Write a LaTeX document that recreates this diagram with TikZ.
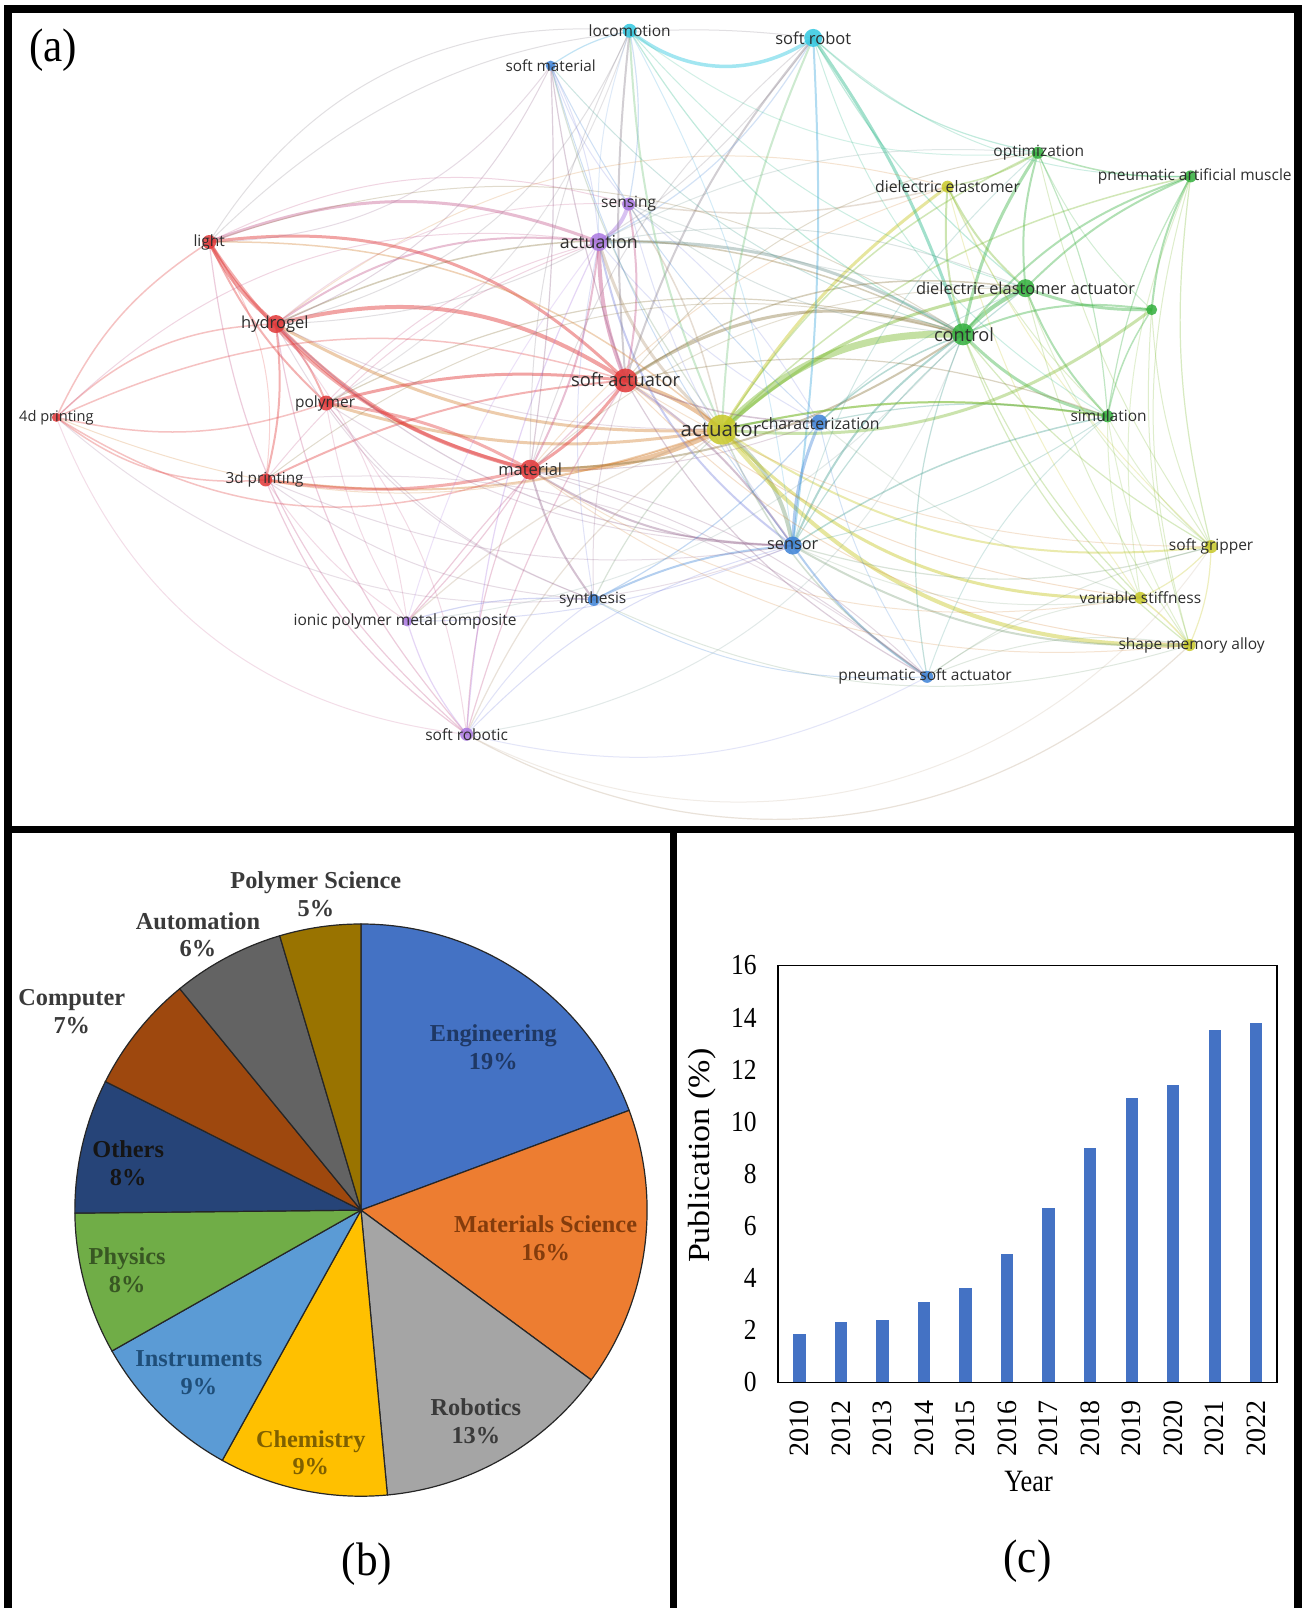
\documentclass[tikz,border=0pt]{standalone}
\usepackage{fontspec}
\setmainfont{Liberation Serif}
\newfontfamily\vosfont{Open Sans}
\usetikzlibrary{backgrounds}
\definecolor{vred}{RGB}{225,55,55}
\definecolor{vgreen}{RGB}{50,175,60}
\definecolor{vblue}{RGB}{60,130,215}
\definecolor{vyel}{RGB}{200,200,40}
\definecolor{vpur}{RGB}{170,120,225}
\definecolor{vcyan}{RGB}{50,200,225}
\definecolor{cEng}{HTML}{4472C4}
\definecolor{cMat}{HTML}{ED7D31}
\definecolor{cRob}{HTML}{A5A5A5}
\definecolor{cChe}{HTML}{FFC000}
\definecolor{cIns}{HTML}{5B9BD5}
\definecolor{cPhy}{HTML}{70AD47}
\definecolor{cOth}{HTML}{264478}
\definecolor{cCom}{HTML}{9E480E}
\definecolor{cAut}{HTML}{636363}
\definecolor{cPol}{HTML}{997300}
\definecolor{tEng}{HTML}{1F3864}
\definecolor{tMat}{HTML}{843C0C}
\definecolor{tRob}{HTML}{3A3A3A}
\definecolor{tChe}{HTML}{7F6000}
\definecolor{tIns}{HTML}{1F4E79}
\definecolor{tPhy}{HTML}{385723}
\definecolor{tOth}{HTML}{151515}
\definecolor{tOut}{HTML}{3A3A3A}
\definecolor{barblue}{HTML}{4472C4}
\tikzset{
  dot/.style={circle, inner sep=0pt, draw=none, fill opacity=0.85},
  vlab/.style={inner sep=0pt, text=black!82},
  pielab/.style={align=center, inner sep=0pt, font=\bfseries\fontsize{24.3}{27.7}\selectfont},
  paneltag/.style={inner sep=0pt, xscale=0.92, font=\fontsize{47}{47}\selectfont},
  ticklab/.style={inner sep=0pt, font=\fontsize{29}{29}\selectfont},
  slice/.style={draw=black!85, line width=1.2pt},
  framestyle/.style={line width=7.5pt, line cap=rect, line join=miter}
}
\newcommand\vnode[5]{%
  \node[dot, fill=#4, minimum size=#5*2pt] (#1) at (#2,#3) {};
  \expandafter\xdef\csname nc@#1\endcsname{#4}}
\newcommand\vlabel[5]{%
  \node[vlab, font=\vosfont\fontsize{#4}{#4}\selectfont] (t#1) at (#2,#3) {#5};}
\newcommand\vedge[5][0.38]{%
  \edef\vca{\csname nc@#2\endcsname}\edef\vcb{\csname nc@#3\endcsname}%
  \draw[line width=#4pt, draw=\vca!50!\vcb, opacity=#1] (#2.center) to[bend left={1.3*(#5)}] (#3.center);}
\begin{document}
\begin{tikzpicture}[x=1.0251pt, y=-1.0251pt]
\useasboundingbox (0,0) rectangle (1274,1568);
\begin{pgfonlayer}{background}
  \fill[white] (0,0) rectangle (1274,1568);
\end{pgfonlayer}

% ---------------- panel (a): network ----------------
\vnode{loc}{614}{30}{vcyan}{7}
\vnode{srob}{793}{37}{vcyan}{9}
\vnode{smat}{537}{64}{vblue}{5}
\vnode{opt}{1012}{149}{vgreen}{6}
\vnode{pam}{1161}{172}{vgreen}{6}
\vnode{de}{924}{182}{vyel}{6}
\vnode{sens}{613}{199}{vpur}{6.5}
\vnode{actn}{584}{236}{vpur}{9}
\vnode{light}{204}{236}{vred}{7}
\vnode{dea}{1000}{281}{vgreen}{9}
\vnode{gx}{1123}{302}{vgreen}{5.5}
\vnode{hyd}{269}{316}{vred}{9}
\vnode{ctrl}{939}{326}{vgreen}{11}
\vnode{sact}{610}{371}{vred}{12}
\vnode{poly}{318}{393}{vred}{7.5}
\vnode{pfour}{55}{407}{vred}{4.5}
\vnode{act}{704}{419}{vyel}{15}
\vnode{char}{799}{412}{vblue}{8}
\vnode{sim}{1080}{406}{vgreen}{6}
\vnode{mat}{517}{458}{vred}{10}
\vnode{pthree}{259}{468}{vred}{6.5}
\vnode{sensor}{773}{532}{vblue}{9}
\vnode{sg}{1181}{533}{vyel}{6.5}
\vnode{syn}{579}{585}{vblue}{6}
\vnode{vs}{1112}{583}{vyel}{6}
\vnode{ipmc}{397}{606}{vpur}{5}
\vnode{sma}{1160}{629}{vyel}{6}
\vnode{psa}{904}{660}{vblue}{6}
\vnode{srobc}{455}{716}{vpur}{6.5}

\begin{pgfonlayer}{background}
\begin{scope}
\clip (12,12) rectangle (1262,805);
% thick edges
\vedge[0.45]{act}{ctrl}{7}{18}
\vedge[0.45]{mat}{act}{5}{-10}
\vedge[0.4]{hyd}{act}{3}{-12}
\vedge[0.4]{poly}{act}{3}{-10}
\vedge[0.4]{mat}{ctrl}{2}{-12}
\vedge[0.45]{sact}{act}{4}{8}
\vedge[0.45]{act}{sensor}{4}{16}
\vedge[0.45]{act}{sma}{4}{-20}
\vedge[0.45]{act}{vs}{3}{-18}
\vedge{act}{sg}{2}{-15}
\vedge[0.45]{act}{de}{3}{8}
\vedge{act}{char}{2}{8}
\vedge[0.45]{act}{dea}{3}{12}
\vedge{pthree}{act}{2}{-10}
\vedge[0.45]{hyd}{sact}{4}{18}
\vedge[0.45]{light}{sact}{3}{20}
\vedge[0.45]{sact}{mat}{3}{8}
\vedge[0.45]{poly}{sact}{3}{8}
\vedge{pthree}{sact}{2}{8}
\vedge[0.45]{actn}{sact}{4}{-8}
\vedge{sact}{sensor}{2}{8}
\vedge[0.4]{sact}{ctrl}{3}{20}
\vedge[0.45]{light}{hyd}{4}{-8}
\vedge[0.45]{hyd}{mat}{4}{-12}
\vedge{hyd}{poly}{2}{8}
\vedge{hyd}{pthree}{2}{8}
\vedge{light}{poly}{2}{-8}
\vedge[0.4]{light}{mat}{3}{-16}
\vedge[0.4]{light}{actn}{3}{16}
\vedge[0.45]{actn}{sens}{4}{-16}
\vedge{actn}{sensor}{2}{-16}
\vedge[0.4]{actn}{ctrl}{3}{12}
\vedge[0.4]{actn}{act}{3}{-12}
\vedge{actn}{mat}{2}{8}
\vedge[0.45]{loc}{srob}{3.5}{-28}
\vedge[0.45]{srob}{ctrl}{3}{6}
\vedge{srob}{act}{2}{-8}
\vedge{srob}{sact}{2}{-8}
\vedge{srob}{sensor}{2}{4}
\vedge{loc}{act}{2}{-8}
\vedge{loc}{sact}{2}{-4}
\vedge[0.45]{ctrl}{dea}{4}{8}
\vedge[0.4]{ctrl}{opt}{3}{8}
\vedge{ctrl}{pam}{2}{12}
\vedge[0.4]{ctrl}{sim}{3}{-12}
\vedge{ctrl}{gx}{2}{12}
\vedge{ctrl}{sensor}{2}{-12}
\vedge{ctrl}{de}{2}{8}
\vedge{de}{dea}{2}{-8}
\vedge{dea}{opt}{2}{8}
\vedge[0.4]{dea}{gx}{3}{-8}
\vedge{dea}{pam}{2}{8}
\vedge{dea}{sim}{2}{-8}
\vedge[0.4]{gx}{act}{3}{16}
\vedge{gx}{pam}{2}{8}
\vedge[0.4]{sensor}{char}{3}{8}
\vedge{sensor}{psa}{2}{-8}
\vedge{sensor}{syn}{2}{-8}
\vedge{mat}{sensor}{2}{-12}
\vedge{sensor}{sma}{2}{-12}
\vedge{mat}{syn}{2}{-8}
\vedge[0.4]{pthree}{mat}{3}{-8}
\vedge[0.4]{poly}{mat}{3}{8}
% thinner edges
\vedge[0.3]{pfour}{mat}{1.5}{-20}
\vedge[0.3]{pfour}{hyd}{1.5}{16}
\vedge[0.3]{pfour}{light}{1.5}{12}
\vedge[0.3]{pfour}{poly}{1.5}{-12}
\vedge[0.3]{pfour}{pthree}{1.5}{-16}
\vedge[0.3]{pfour}{sact}{1.5}{16}
\vedge[0.3]{srobc}{ipmc}{1.2}{8}
\vedge[0.3]{srobc}{mat}{1.2}{8}
\vedge[0.3]{srobc}{actn}{1.2}{8}
\vedge[0.3]{srobc}{sact}{1.2}{6}
\vedge[0.3]{srobc}{act}{1.2}{12}
\vedge[0.3]{srobc}{sma}{1.2}{-28}
\vedge[0.3]{light}{srobc}{1.2}{-16}
\vedge[0.3]{hyd}{srobc}{1.2}{-12}
\vedge[0.3]{pthree}{srobc}{1.2}{-12}
\vedge[0.3]{ipmc}{mat}{1.2}{-4}
\vedge[0.3]{ipmc}{act}{1.2}{8}
\vedge[0.3]{ipmc}{syn}{1.2}{8}
\vedge[0.3]{ipmc}{sact}{1.2}{4}
\vedge[0.3]{sg}{vs}{1.2}{8}
\vedge[0.3]{sg}{sma}{1.2}{8}
\vedge[0.3]{sg}{ctrl}{1.2}{8}
\vedge[0.3]{sensor}{sg}{1.2}{-12}
\vedge[0.35]{vs}{sma}{1.5}{4}
\vedge[0.3]{ctrl}{vs}{1.2}{-8}
\vedge[0.35]{act}{psa}{1.5}{-12}
\vedge[0.3]{sact}{psa}{1.2}{-12}
\vedge[0.3]{ctrl}{psa}{1.2}{-12}
\vedge[0.3]{smat}{sact}{1.2}{-4}
\vedge[0.3]{smat}{act}{1.2}{-8}
\vedge[0.3]{smat}{loc}{1.2}{8}
\vedge[0.3]{smat}{mat}{1.2}{4}
\vedge[0.35]{de}{opt}{1.5}{-8}
\vedge[0.35]{sens}{de}{1.5}{-8}
\vedge[0.35]{pam}{opt}{1.5}{8}
\vedge[0.3]{pam}{sim}{1.2}{-8}
\vedge[0.3]{pam}{sg}{1.2}{-8}
\vedge{sim}{act}{2}{-8}
\vedge[0.35]{sim}{sensor}{1.5}{-8}
\vedge[0.35]{char}{ctrl}{1.5}{8}
\vedge[0.35]{char}{sact}{1.5}{8}
\vedge[0.25]{light}{loc}{1}{24}
\vedge[0.25]{light}{srob}{1}{20}
\vedge{hyd}{actn}{2}{16}
\vedge[0.35]{hyd}{ctrl}{1.5}{20}
\vedge{sact}{sens}{2}{-8}
\vedge[0.35]{sens}{act}{1.5}{8}
\vedge[0.35]{sact}{dea}{1.5}{16}
\vedge[0.3]{poly}{ctrl}{1.2}{16}
\vedge[0.3]{sensor}{dea}{1.2}{8}
\vedge[0.3]{char}{sim}{1.2}{8}
\vedge{act}{sim}{2}{8}
\vedge[0.3]{sact}{sim}{1.2}{12}
\vedge[0.3]{srob}{dea}{1.2}{-8}
\vedge[0.3]{srob}{opt}{1.2}{-12}
\vedge[0.3]{loc}{ctrl}{1.2}{-12}
\vedge[0.3]{loc}{sens}{1.2}{8}
\vedge[0.3]{srob}{actn}{1.2}{12}
\vedge[0.25]{smat}{char}{1}{-8}
\vedge[0.25]{psa}{sma}{1}{12}
\vedge[0.25]{psa}{sg}{1}{8}
\vedge[0.25]{pthree}{ctrl}{1}{20}
\vedge[0.35]{light}{act}{1.5}{16}
\vedge[0.3]{hyd}{sensor}{1.2}{-16}
\vedge[0.3]{syn}{char}{1.2}{-8}
\vedge[0.3]{syn}{act}{1.2}{8}
\vedge[0.25]{ipmc}{sensor}{1}{-8}
\vedge[0.25]{srobc}{sensor}{1}{12}
\vedge[0.25]{pfour}{act}{1}{-16}
\vedge[0.35]{act}{opt}{1.5}{12}
\vedge[0.35]{act}{pam}{1.5}{12}
\vedge[0.3]{opt}{sim}{1.2}{8}
\vedge[0.25]{opt}{sg}{1}{-8}
\vedge[0.25]{de}{sg}{1}{-8}
\vedge[0.25]{sensor}{sim}{1}{-8}
\vedge[0.25]{loc}{hyd}{1}{20}
\vedge[0.25]{smat}{hyd}{1}{16}
\vedge[0.25]{srob}{hyd}{1}{20}
\vedge[0.3]{ctrl}{sma}{1.2}{-12}
\vedge[0.35]{gx}{sim}{1.5}{-8}
\vedge[0.25]{gx}{sg}{1}{-8}
\vedge[0.25]{vs}{de}{1}{8}
\vedge[0.25]{sma}{dea}{1}{8}
\vedge[0.25]{syn}{sma}{1}{-16}
\vedge[0.2]{srobc}{sg}{1}{-32}
\vedge[0.25]{psa}{mat}{1}{-12}
\vedge[0.2]{psa}{pthree}{1}{-16}
\vedge[0.25]{loc}{mat}{1}{-10}
\vedge[0.25]{srob}{mat}{1}{-12}
\vedge[0.25]{srob}{pam}{1}{-16}
\vedge[0.25]{srob}{sim}{1}{-16}
\vedge[0.25]{loc}{dea}{1}{-12}
\vedge[0.25]{light}{ctrl}{1}{20}
\vedge[0.25]{light}{sens}{1}{16}
\vedge[0.25]{pfour}{actn}{1}{20}
\vedge[0.25]{poly}{actn}{1}{12}
\vedge[0.25]{pthree}{actn}{1}{12}
\vedge[0.25]{mat}{char}{1}{-8}
\vedge[0.25]{sens}{ctrl}{1}{-12}
\vedge[0.25]{actn}{dea}{1}{12}
\vedge[0.25]{sact}{opt}{1}{16}
\vedge[0.25]{sact}{sma}{1}{-16}
\vedge[0.25]{sact}{vs}{1}{-12}
\vedge[0.25]{mat}{psa}{1}{8}
\vedge[0.2]{srobc}{psa}{1}{-16}
\vedge[0.25]{syn}{psa}{1}{-12}
\vedge[0.25]{smat}{ctrl}{1}{-12}
\vedge[0.25]{smat}{sensor}{1}{-8}
\vedge[0.25]{de}{sim}{1}{-8}
\vedge[0.25]{gx}{sma}{1}{-8}
\vedge[0.25]{pam}{sma}{1}{-12}
% extra faint edges
\vedge[0.22]{light}{pthree}{1}{16}
\vedge[0.22]{hyd}{sens}{1}{16}
\vedge[0.22]{hyd}{de}{1}{20}
\vedge[0.22]{hyd}{char}{1}{-12}
\vedge[0.22]{hyd}{syn}{1}{-16}
\vedge[0.22]{poly}{sensor}{1}{-12}
\vedge[0.22]{poly}{syn}{1}{-12}
\vedge[0.22]{poly}{ipmc}{1}{-8}
\vedge[0.22]{pthree}{sensor}{1}{-12}
\vedge[0.22]{pthree}{syn}{1}{-12}
\vedge[0.22]{pthree}{ipmc}{1}{-8}
\vedge[0.22]{mat}{dea}{1}{16}
\vedge[0.22]{mat}{de}{1}{12}
\vedge[0.22]{mat}{sma}{1}{-16}
\vedge[0.22]{mat}{vs}{1}{-16}
\vedge[0.22]{sact}{syn}{1}{-8}
\vedge[0.22]{sact}{sg}{1}{-12}
\vedge[0.22]{actn}{char}{1}{-8}
\vedge[0.22]{actn}{syn}{1}{-8}
\vedge[0.22]{actn}{ipmc}{1}{-8}
\vedge[0.22]{actn}{opt}{1}{12}
\vedge[0.22]{sens}{sensor}{1}{-8}
\vedge[0.22]{sens}{dea}{1}{-8}
\vedge[0.22]{sens}{char}{1}{8}
\vedge[0.22]{char}{psa}{1}{-8}
\vedge[0.22]{char}{dea}{1}{8}
\vedge[0.22]{char}{vs}{1}{-8}
\vedge[0.22]{sensor}{vs}{1}{-12}
\vedge[0.22]{sensor}{opt}{1}{12}
\vedge[0.22]{psa}{vs}{1}{12}
\vedge[0.22]{psa}{sim}{1}{12}
\vedge[0.22]{vs}{sim}{1}{8}
\vedge[0.22]{vs}{pam}{1}{12}
\vedge[0.22]{sma}{sim}{1}{8}
\vedge[0.22]{sg}{sim}{1}{8}
\vedge[0.22]{sg}{dea}{1}{12}
\vedge[0.22]{opt}{gx}{1}{-8}
\vedge[0.22]{loc}{opt}{1}{-16}
\vedge[0.22]{loc}{actn}{1}{-8}
\vedge[0.22]{loc}{sensor}{1}{8}
\vedge[0.22]{loc}{poly}{1}{16}
\vedge[0.22]{smat}{sens}{1}{-8}
\vedge[0.22]{smat}{actn}{1}{8}
\vedge[0.22]{smat}{light}{1}{20}
\vedge[0.22]{srobc}{poly}{1}{-12}
\vedge[0.22]{srobc}{syn}{1}{8}
\vedge[0.2]{srobc}{ctrl}{1}{-24}
\vedge[0.22]{ipmc}{hyd}{1}{-12}
\vedge[0.2]{ipmc}{ctrl}{1}{-16}
\vedge[0.2]{pfour}{srobc}{1}{-24}
\vedge[0.2]{pfour}{sensor}{1}{-24}
\end{scope}
\end{pgfonlayer}

\vlabel{loc}{614}{30}{15.5}{locomotion}
\vlabel{srob}{793}{37}{16.5}{soft robot}
\vlabel{smat}{537}{64}{15.3}{soft material}
\vlabel{opt}{1013}{149}{15.5}{optimization}
\vlabel{pam}{1165}{172}{15.5}{pneumatic artificial muscle}
\vlabel{de}{924}{182}{15.8}{dielectric elastomer}
\vlabel{sens}{613}{199}{15.5}{sensing}
\vlabel{actn}{584}{236}{17.8}{actuation}
\vlabel{light}{204}{236}{15.5}{light}
\vlabel{dea}{1000}{281}{16.4}{dielectric elastomer actuator}
\vlabel{hyd}{268}{316}{16.5}{hydrogel}
\vlabel{ctrl}{940}{326}{18.2}{control}
\vlabel{sact}{610}{370}{18.3}{soft actuator}
\vlabel{poly}{317}{393}{15.5}{polymer}
\vlabel{pfour}{55}{407}{14.6}{4d printing}
\vlabel{act}{703}{419}{20.5}{actuator}
\vlabel{char}{800}{413}{15.8}{characterization}
\vlabel{sim}{1081}{405}{15.5}{simulation}
\vlabel{mat}{517}{458}{16.5}{material}
\vlabel{pthree}{258}{468}{15.3}{3d printing}
\vlabel{sensor}{773}{532}{16.3}{sensor}
\vlabel{sg}{1181}{533}{15.5}{soft gripper}
\vlabel{syn}{578}{585}{15.5}{synthesis}
\vlabel{vs}{1112}{583}{15.5}{variable stiffness}
\vlabel{ipmc}{395}{606}{15.5}{ionic polymer metal composite}
\vlabel{sma}{1162}{629}{15.5}{shape memory alloy}
\vlabel{psa}{902}{660}{15.5}{pneumatic soft actuator}
\vlabel{srobc}{455}{716}{15.5}{soft robotic}

\node[paneltag] (tagA) at (52,49) {(a)};

% ---------------- panel (b): pie ----------------
\begin{scope}[shift={(352,1180)}, yscale=-1]
  \filldraw[slice, fill=cEng] (0,0) -- (90:279) arc[start angle=90, end angle=20.4, radius=279] -- cycle;
  \filldraw[slice, fill=cMat] (0,0) -- (20.4:279) arc[start angle=20.4, end angle=-36.4, radius=279] -- cycle;
  \filldraw[slice, fill=cRob] (0,0) -- (-36.4:279) arc[start angle=-36.4, end angle=-84.7, radius=279] -- cycle;
  \filldraw[slice, fill=cChe] (0,0) -- (-84.7:279) arc[start angle=-84.7, end angle=-119, radius=279] -- cycle;
  \filldraw[slice, fill=cIns] (0,0) -- (-119:279) arc[start angle=-119, end angle=-150.5, radius=279] -- cycle;
  \filldraw[slice, fill=cPhy] (0,0) -- (-150.5:279) arc[start angle=-150.5, end angle=-179.4, radius=279] -- cycle;
  \filldraw[slice, fill=cOth] (0,0) -- (-179.4:279) arc[start angle=-179.4, end angle=-206.7, radius=279] -- cycle;
  \filldraw[slice, fill=cCom] (0,0) -- (-206.7:279) arc[start angle=-206.7, end angle=-230.7, radius=279] -- cycle;
  \filldraw[slice, fill=cAut] (0,0) -- (-230.7:279) arc[start angle=-230.7, end angle=-253.5, radius=279] -- cycle;
  \filldraw[slice, fill=cPol] (0,0) -- (-253.5:279) arc[start angle=-253.5, end angle=-270, radius=279] -- cycle;
\end{scope}
\node[pielab, text=tEng] (lEng) at (481,1021.5) {Engineering\\19\%};
\node[pielab, text=tMat] (lMat) at (532,1207.5) {Materials Science\\16\%};
\node[pielab, text=tRob] (lRob) at (464,1386) {Robotics\\13\%};
\node[pielab, text=tChe] (lChe) at (303,1416.5) {Chemistry\\9\%};
\node[pielab, text=tIns] (lIns) at (194,1338.5) {Instruments\\9\%};
\node[pielab, text=tPhy] (lPhy) at (124,1238.5) {Physics\\8\%};
\node[pielab, text=tOth] (lOth) at (125,1134) {Others\\8\%};
\node[pielab, text=tOut] (lCom) at (70,986.5) {Computer\\7\%};
\node[pielab, text=tOut] (lAut) at (193,911.5) {Automation\\6\%};
\node[pielab, text=tOut] (lPol) at (308,872) {Polymer Science\\5\%};
\node[paneltag] (tagB) at (358,1525) {(b)};

% ---------------- panel (c): bars ----------------
\foreach \i/\v/\yr in {0/1.85/2010,1/2.32/2012,2/2.4/2013,3/3.1/2014,4/3.62/2015,5/4.92/2016,6/6.69/2017,7/9.0/2018,8/10.9/2019,9/11.41/2020,10/13.54/2021,11/13.8/2022}{
  \pgfmathsetmacro\bx{779.5+40.5*\i}
  \fill[barblue] ({\bx-6},1348) rectangle ({\bx+6},{1348-25.41*\v});
  \node[ticklab, rotate=90, font=\fontsize{28}{28}\selectfont] (yr\yr) at (\bx,1392.5) {\yr};
}
\draw[line width=1.8pt] (759,941.4) rectangle (1245,1348);
\foreach \v in {0,2,...,16}{
  \node[ticklab, anchor=east, xscale=0.88] (tick\v) at (738,{1348-25.41*\v}) {\v};
}
\node[inner sep=0pt, rotate=90, yscale=0.9, font=\fontsize{34}{34}\selectfont] (ylab) at (684.5,1127) {Publication (\%)};
\node[inner sep=0pt, xscale=0.85, font=\fontsize{31}{31}\selectfont] (xlab) at (1003,1445) {Year};
\node[paneltag] (tagC) at (1002,1522) {(c)};

% ---------------- frames ----------------
\draw[framestyle] (8,1600) -- (8,8.6) -- (1265.5,8.6) -- (1265.5,1600);
\draw[framestyle] (8,808.7) -- (1265.5,808.7);
\draw[line width=7pt] (657,808.7) -- (657,1600);
\end{tikzpicture}
\end{document}
